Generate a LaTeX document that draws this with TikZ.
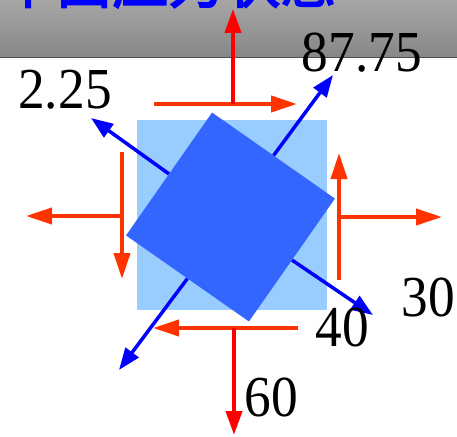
\documentclass[tikz,border=0pt]{standalone}
\usepackage{fontspec}
\setmainfont{Liberation Serif}
\newfontfamily\cjk[FakeBold=3]{Noto Sans CJK SC}
\usetikzlibrary{arrows.meta}
\definecolor{barTop}{HTML}{A6A6A6}
\definecolor{barBot}{HTML}{878787}
\definecolor{lightsq}{HTML}{99CCFF}
\definecolor{rotsq}{HTML}{3366FF}
\definecolor{shearred}{HTML}{FF3300}
\definecolor{normred}{HTML}{FF0000}
\definecolor{princblue}{HTML}{0000FF}
\begin{document}
\begin{tikzpicture}[x=1pt,y=-1pt,
  sheararrow/.style={draw=shearred, line width=4pt, -{Triangle[length=26pt,width=16pt]}},
  normarrow/.style={draw=normred, line width=4pt, -{Triangle[length=24pt,width=16pt]}},
  sidearrow/.style={draw=shearred, line width=4pt, -{Triangle[length=26pt,width=16pt]}},
  princarrow/.style={draw=princblue, line width=3.5pt, -{Triangle[length=22pt,width=16pt]}},
  valuelabel/.style={inner sep=0pt, xscale=0.92, font=\fontsize{58}{58}\selectfont}]
\useasboundingbox (0,0) rectangle (457,436);
% title bar
\shade[top color=barTop, bottom color=barBot] (0,0) rectangle (457,57);
\draw[draw=gray!60!black, line width=0.8pt] (0,57) -- (457,57);
\begin{scope}
  \clip (0,0) rectangle (457,10);
  \node[anchor=base west, inner sep=0pt, text=princblue, font=\cjk\fontsize{56}{56}\selectfont] (title) at (0,3) {平面应力状态};
\end{scope}
% element
\node[fill=lightsq, minimum size=190pt, inner sep=0pt] (bg) at (232,215) {};
% red arrows
\coordinate (tA) at (154,104); \coordinate (tB) at (297,104);
\coordinate (tC) at (233,104); \coordinate (tD) at (233,9);
\coordinate (lA) at (122,152); \coordinate (lB) at (122,279);
\coordinate (lC) at (122,216); \coordinate (lD) at (26,216);
\coordinate (rA) at (339,280); \coordinate (rB) at (339,153);
\coordinate (rC) at (339,217); \coordinate (rD) at (442,217);
\coordinate (bA) at (298,328); \coordinate (bB) at (153,328);
\coordinate (bC) at (234,328); \coordinate (bD) at (234,435);
\draw[sheararrow] (tA) -- (tB);
\draw[normarrow] (tC) -- (tD);
\draw[sheararrow] (lA) -- (lB);
\draw[sidearrow] (lC) -- (lD);
\draw[sheararrow] (rA) -- (rB);
\draw[sidearrow] (rC) -- (rD);
\draw[sheararrow] (bA) -- (bB);
\draw[normarrow] (bC) -- (bD);
% principal element
\node[fill=rotsq, minimum size=150pt, inner sep=0pt, rotate=-35] (el) at (230.5,217) {};
\coordinate (pUL) at (91,118);
\coordinate (pUR) at (333,75);
\coordinate (pDR) at (373,315);
\coordinate (pDL) at (119,370);
\draw[princarrow] (el.west) -- (pUL);
\draw[princarrow] (el.north) -- (pUR);
\draw[princarrow] (el.east) -- (pDR);
\draw[princarrow] (el.south) -- (pDL);
% labels
\node[valuelabel] (l8775) at (362,53) {87.75};
\node[valuelabel] (l225) at (65,90) {2.25};
\node[valuelabel] (l30) at (428,297) {30};
\node[valuelabel] (l40) at (342,327) {40};
\node[valuelabel] (l60) at (271,397) {60};
\end{tikzpicture}
\end{document}
